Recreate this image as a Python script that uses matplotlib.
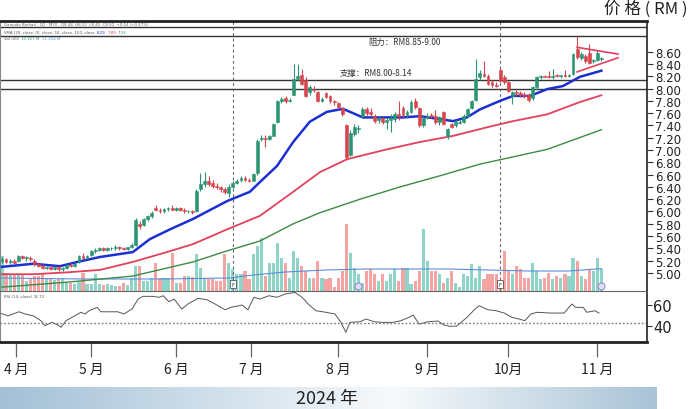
import matplotlib
matplotlib.use("Agg")
import matplotlib.pyplot as plt
import matplotlib.transforms as mtransforms
from matplotlib.colors import LinearSegmentedColormap
import numpy as np

CJK = ['Noto Sans CJK SC', 'DejaVu Sans']
plt.rcParams['font.family'] = ['DejaVu Sans', 'Noto Sans CJK SC']

# ---------------- data (trading-day index 0 = late March 2024) ----------------
opens = [5.20, 5.22, 5.18, 5.20, 5.20, 5.27, 5.24, 5.25, 5.20, 5.14,
         5.12, 5.08, 5.10, 5.07, 5.10, 5.06, 5.08, 5.13, 5.12, 5.18,
         5.28, 5.25, 5.30, 5.36, 5.38, 5.41, 5.38, 5.40, 5.41, 5.42,
         5.41, 5.39, 5.42, 5.45, 5.80, 5.78, 5.88, 5.93, 6.05, 6.02,
         6.00, 6.04, 6.06, 6.03, 6.05, 6.02, 6.00, 6.01, 6.00, 6.36,
         6.45, 6.50, 6.46, 6.42, 6.40, 6.36, 6.30, 6.40, 6.47, 6.52,
         6.55, 6.52, 6.50, 6.62, 7.18, 7.20, 7.18, 7.23, 7.45, 7.80,
         7.84, 7.80, 7.90, 8.16, 8.22, 8.14, 7.95, 8.00, 7.94, 7.80,
         7.92, 7.88, 7.80, 7.76, 7.68, 7.40, 6.92, 7.26, 7.34, 7.56,
         7.66, 7.62, 7.56, 7.48, 7.52, 7.46, 7.48, 7.50, 7.58, 7.68,
         7.57, 7.62, 7.80, 7.68, 7.40, 7.54, 7.56, 7.55, 7.45, 7.62,
         7.22, 7.42, 7.40, 7.44, 7.46, 7.55, 7.68, 7.82, 8.18, 8.24,
         8.20, 8.10, 8.06, 8.30, 8.18, 8.10, 7.88, 7.94, 7.92, 7.90,
         7.90, 7.84, 8.02, 8.18, 8.20, 8.20, 8.19, 8.21, 8.20, 8.21,
         8.20, 8.24, 8.64, 8.50, 8.53, 8.58, 8.44, 8.46, 8.48]
highs = [5.26, 5.24, 5.22, 5.22, 5.30, 5.30, 5.27, 5.27, 5.22, 5.17,
         5.15, 5.12, 5.12, 5.12, 5.12, 5.10, 5.14, 5.16, 5.17, 5.30,
         5.32, 5.30, 5.38, 5.40, 5.42, 5.43, 5.42, 5.42, 5.46, 5.44,
         5.42, 5.43, 5.48, 5.90, 5.84, 5.90, 5.95, 6.00, 6.10, 6.06,
         6.06, 6.08, 6.10, 6.07, 6.08, 6.05, 6.03, 6.03, 6.36, 6.62,
         6.64, 6.58, 6.52, 6.46, 6.42, 6.40, 6.44, 6.50, 6.53, 6.58,
         6.58, 6.55, 6.63, 7.18, 7.24, 7.24, 7.24, 7.44, 7.82, 7.86,
         7.88, 7.84, 8.40, 8.40, 8.32, 8.18, 8.06, 8.04, 7.96, 7.86,
         7.94, 7.90, 7.82, 7.78, 7.70, 7.42, 7.32, 7.42, 7.40, 7.70,
         7.70, 7.68, 7.58, 7.56, 7.54, 7.52, 7.58, 7.62, 7.80, 7.72,
         7.65, 7.82, 7.84, 7.70, 7.55, 7.60, 7.60, 7.65, 7.56, 7.64,
         7.36, 7.44, 7.48, 7.48, 7.58, 7.68, 7.82, 8.48, 8.30, 8.44,
         8.24, 8.14, 8.10, 8.34, 8.22, 8.12, 7.96, 7.98, 7.96, 7.94,
         7.92, 8.04, 8.20, 8.22, 8.22, 8.28, 8.32, 8.23, 8.22, 8.30,
         8.23, 8.58, 8.85, 8.60, 8.56, 8.72, 8.48, 8.62, 8.52]
lows = [5.16, 5.16, 5.15, 5.16, 5.18, 5.22, 5.20, 5.20, 5.12, 5.10,
        5.06, 5.06, 5.05, 5.05, 5.04, 5.03, 5.06, 5.10, 5.10, 5.17,
        5.22, 5.22, 5.28, 5.32, 5.35, 5.36, 5.36, 5.38, 5.38, 5.38,
        5.37, 5.38, 5.40, 5.44, 5.72, 5.76, 5.85, 5.90, 6.00, 5.98,
        5.98, 6.00, 6.02, 6.00, 6.00, 5.98, 5.97, 5.96, 5.99, 6.34,
        6.40, 6.42, 6.38, 6.36, 6.32, 6.28, 6.24, 6.38, 6.44, 6.48,
        6.49, 6.48, 6.49, 6.60, 7.14, 7.05, 7.16, 7.22, 7.44, 7.76,
        7.76, 7.78, 7.90, 8.12, 8.06, 7.86, 7.90, 7.94, 7.78, 7.78,
        7.84, 7.76, 7.74, 7.68, 7.55, 6.84, 6.90, 7.22, 7.28, 7.52,
        7.56, 7.55, 7.44, 7.44, 7.42, 7.34, 7.30, 7.46, 7.48, 7.54,
        7.52, 7.60, 7.66, 7.38, 7.38, 7.50, 7.52, 7.42, 7.40, 7.40,
        7.18, 7.36, 7.38, 7.42, 7.44, 7.54, 7.66, 7.80, 8.14, 8.18,
        8.06, 8.02, 8.02, 8.10, 8.08, 7.94, 7.75, 7.88, 7.86, 7.84,
        7.78, 7.82, 8.00, 8.16, 8.18, 8.17, 8.16, 8.18, 8.17, 8.19,
        8.18, 8.22, 8.48, 8.46, 8.42, 8.40, 8.42, 8.44, 8.45]
closes = [5.22, 5.18, 5.20, 5.17, 5.27, 5.24, 5.25, 5.22, 5.14, 5.12,
          5.08, 5.10, 5.07, 5.10, 5.06, 5.08, 5.13, 5.12, 5.15, 5.28,
          5.25, 5.28, 5.36, 5.38, 5.41, 5.38, 5.40, 5.41, 5.42, 5.41,
          5.39, 5.42, 5.45, 5.86, 5.76, 5.88, 5.93, 5.97, 6.03, 6.01,
          6.04, 6.06, 6.03, 6.05, 6.02, 6.00, 6.01, 5.99, 6.33, 6.45,
          6.50, 6.44, 6.42, 6.40, 6.36, 6.32, 6.40, 6.47, 6.50, 6.55,
          6.52, 6.50, 6.61, 7.14, 7.20, 7.18, 7.22, 7.42, 7.80, 7.83,
          7.79, 7.82, 8.16, 8.20, 8.08, 7.88, 8.02, 7.98, 7.80, 7.83,
          7.86, 7.80, 7.78, 7.70, 7.58, 6.88, 7.28, 7.38, 7.36, 7.66,
          7.60, 7.58, 7.47, 7.52, 7.45, 7.48, 7.52, 7.58, 7.55, 7.57,
          7.62, 7.78, 7.70, 7.40, 7.52, 7.56, 7.55, 7.46, 7.54, 7.42,
          7.34, 7.38, 7.45, 7.46, 7.56, 7.66, 7.80, 8.16, 8.26, 8.20,
          8.08, 8.06, 8.04, 8.12, 8.10, 7.96, 7.94, 7.92, 7.90, 7.88,
          7.82, 8.02, 8.18, 8.20, 8.19, 8.18, 8.21, 8.20, 8.21, 8.20,
          8.22, 8.56, 8.51, 8.56, 8.44, 8.41, 8.46, 8.58, 8.50]
volumes_m = [17.5, 9, 8.5, 8.5, 8.5, 8, 5, 6, 7.5, 7.5,
             9, 6, 6, 5.5, 6, 6.5, 4, 4, 3.5, 4.5,
             9, 3.5, 3.5, 8.5, 3.5, 3, 3.5, 3, 2.5, 2.5,
             4, 3, 6.5, 12.5, 12.5, 5, 5, 6.5, 14, 6.5,
             6.5, 6.5, 19, 4, 4, 7.5, 7.5, 7, 18.5, 11.5,
             6.5, 6, 6, 5, 5, 18.5, 14, 11, 8.5, 8.5,
             10, 6, 18.5, 22.5, 26.5, 7.5, 14, 14, 24, 16.5,
             14, 6.5, 20, 16.5, 12.5, 10, 6.5, 6.5, 15, 6.5,
             6, 6.5, 2, 6.5, 10, 33.5, 19, 11.5, 8.5, 4,
             10, 11, 8.5, 5, 8.5, 5, 8.5, 11, 5, 11.5,
             11.5, 3.5, 5, 10, 31, 15, 10, 10, 8.5, 4,
             6.5, 10, 4, 2, 8.5, 7.5, 13.5, 6.5, 12.5, 6,
             8.5, 8.5, 8.5, 5, 20, 10, 8.5, 12.5, 11, 6.5,
             6.5, 14, 10, 6, 6.5, 9, 6, 7.5, 6.5, 8.5,
             7.5, 16.5, 15, 7.5, 6, 11, 10, 16.5, 10.927]

vol_ma_idx = [0, 20, 40, 56, 62, 70, 80, 90, 100, 110, 120, 130, 140, 148]
vol_ma = [6.5, 6, 6, 6.5, 8, 9.5, 10.5, 11, 11, 11, 10.5, 10, 10, 11.204]

sma20_idx = [0, 7.7, 14.3, 19.3, 24.2, 32.3, 36.5, 41.5, 47.2, 55.6, 61.2, 63.7, 67.9, 71.9,
             76.0, 80.2, 84.2, 89.1, 99.0, 103.2, 111.4, 114.8, 118.0, 123.0, 126.2, 130.4,
             134.6, 138.5, 142.7, 148]
sma20 = [5.10, 5.15, 5.11, 5.19, 5.26, 5.34, 5.55, 5.71, 5.88, 6.17, 6.32, 6.48, 6.74, 7.13,
         7.46, 7.62, 7.67, 7.53, 7.53, 7.55, 7.47, 7.53, 7.66, 7.80, 7.88, 7.88,
         7.99, 8.04, 8.19, 8.29]
sma50_idx = [0, 7.7, 16, 24.2, 32.3, 40.7, 47.2, 55.6, 63.7, 71.9, 78.5, 85.2, 95, 103.2,
             111.4, 119.8, 126.2, 134.6, 142.7, 148]
sma50 = [4.98, 4.98, 5.01, 5.05, 5.18, 5.34, 5.47, 5.71, 5.93, 6.32, 6.64, 6.85, 7.01, 7.13,
         7.23, 7.37, 7.47, 7.58, 7.78, 7.89]
sma100_idx = [0, 16, 32.3, 40.7, 47.2, 55.6, 63.7, 71.9, 78.5, 88.4, 98.3, 108.1, 118, 134.6, 148]
sma100 = [4.77, 4.85, 4.95, 5.08, 5.18, 5.36, 5.52, 5.80, 5.98, 6.20, 6.40, 6.58, 6.77, 7.01, 7.33]

rsi_idx = [-0.5, 1.5, 4.2, 5.7, 7.7, 9.6, 10.6, 12.3, 13.8, 14.6, 15.8, 17.3, 19.5, 20.5, 21.5,
           23.5, 24.4, 26.7, 28.6, 30.1, 32.1, 33.6, 34.8, 37.3, 38.8, 39.8, 41.2, 42.5, 44.4,
           45.9, 48.4, 50.6, 52.6, 55.1, 56.5, 59.3, 60.7, 62.2, 63.7, 65.9, 67.9, 69.9, 72.3,
           74.1, 75.6, 77.5, 80.0, 82.2, 83.7, 84.9, 85.9, 88.4, 89.9, 91.9, 93.8, 96.5, 98.5,
           100.5, 101.5, 103.0, 105.2, 107.7, 109.1, 110.6, 112.3, 114.8, 116.8, 117.8, 120.0,
           122.0, 124.0, 125.9, 127.7, 129.1, 130.6, 132.1, 135.3, 138.8, 140.7, 141.7, 143.5,
           144.4, 146.4, 147.4]
rsi_vals = [51.9, 49.3, 53.1, 51.0, 49.3, 44.6, 39.8, 43.0, 40.5, 38.3, 44.6, 47.8, 52.6, 51.0,
            54.1, 57.3, 53.1, 53.1, 53.1, 51.0, 55.7, 65.2, 67.8, 67.8, 66.9, 68.4, 62.7, 65.2,
            55.7, 60.5, 65.9, 64.6, 60.5, 55.0, 57.3, 59.5, 55.0, 66.9, 65.2, 68.4, 66.9, 70.0,
            71.6, 66.9, 60.5, 54.1, 52.6, 51.0, 43.0, 33.5, 43.0, 43.6, 46.2, 43.6, 43.0, 43.0,
            44.6, 47.8, 50.0, 41.4, 43.6, 44.3, 40.5, 39.2, 39.5, 47.8, 55.7, 58.9, 55.0, 54.1,
            51.9, 47.8, 46.2, 44.6, 51.0, 52.6, 51.9, 51.9, 60.5, 57.3, 57.3, 52.6, 54.1, 51.9]
rsi_guide = 42.7

resistance = [9.00, 8.85]
support = [8.14, 8.00]
trend_idx = [142, 152.1]
upper_trend = [8.67, 8.56]
lower_trend = [8.27, 8.50]

price_ticks = [5.00, 5.20, 5.40, 5.60, 5.80, 6.00, 6.20, 6.40, 6.60, 6.80, 7.00,
               7.20, 7.40, 7.60, 7.80, 8.00, 8.20, 8.40, 8.60]
rsi_ticks = [40, 60]
month_pos = [3.5, 22, 43, 61.5, 83, 105, 125, 147]
month_labels = ['4 月', '5 月', '6 月', '7 月', '8 月', '9 月', '10月', '11 月']
f_events = [57, 123]
d_events = [88, 148]

# ---------------- figure ----------------
W, H = 690, 410
fig = plt.figure(figsize=(6.9, 4.1), dpi=100)
fig.patch.set_facecolor('white')


def rect(x0, y0, x1, y1):
    return [x0 / W, 1 - y1 / H, (x1 - x0) / W, (y1 - y0) / H]


PX = 4.05
XL = (-2 / PX, (647 - 2) / PX)

ax = fig.add_axes(rect(0, 22, 647, 292))
ax_r = fig.add_axes(rect(0, 292, 647, 343), sharex=ax)

UP, DOWN = '#2b9474', '#d6454c'
VUP, VDOWN = '#8fd4c8', '#f4a5a3'

idx = np.arange(len(closes))
o, h, l, c = map(np.array, (opens, highs, lows, closes))
up = c >= o
col = np.where(up, UP, DOWN)

# volume on twin axis
ax_v = ax.twinx()
ax_v.bar(idx, volumes_m, width=0.78, color=np.where(up, VUP, VDOWN), zorder=1)
ax_v.plot(vol_ma_idx, vol_ma, color='#5b8ddb', lw=0.8, zorder=2)
ax_v.set_ylim(0, 135)
ax_v.set_axis_off()
ax.set_zorder(ax_v.get_zorder() + 1)
ax.patch.set_visible(False)

# moving averages
ax.plot(sma100_idx, sma100, color='#3d8a45', lw=1.0, zorder=3)
ax.plot(sma50_idx, sma50, color='#e2405c', lw=1.3, zorder=3)
ax.plot(sma20_idx, sma20, color='#1c2fd0', lw=1.8, zorder=3)

# candles
ax.vlines(idx, l, h, colors=col, lw=0.8, zorder=4)
ax.bar(idx, np.maximum(np.abs(c - o), 0.014), bottom=np.minimum(o, c), width=0.7,
       color=col, edgecolor=col, lw=0.4, zorder=5)

# support / resistance
for lv in resistance + support:
    ax.axhline(lv, color='#333333', lw=1.0, zorder=2)

# triangle
ax.plot(trend_idx, upper_trend, color='#e2405c', lw=1.2, zorder=6)
ax.plot(trend_idx, lower_trend, color='#e2405c', lw=1.2, zorder=6)

# event lines and markers
btrans = mtransforms.blended_transform_factory(ax.transData, ax.transAxes)
for e in f_events:
    ax.axvline(e, color='#666666', lw=0.8, ls=(0, (2.5, 2.5)), zorder=2)
    ax.text(e, 0.025, 'F', transform=btrans, ha='center', va='center', fontsize=3.5,
            color='#333333', zorder=7,
            bbox=dict(boxstyle='square,pad=0.35', fc='white', ec='#555555', lw=0.6))
for e in d_events:
    ax.plot([e], [0.018], transform=btrans, marker='o', ms=5, mfc='#e3def7', mec='#8a84c9',
            mew=0.7, zorder=7, clip_on=False)

ax.set_xlim(*XL)
ax.set_ylim(4.707, 9.098)
ax.set_yticks(price_ticks)
ax.set_yticklabels([f'{t:.2f}' for t in price_ticks])
ax.yaxis.tick_right()
ax.tick_params(axis='y', length=4.5, width=0.8, color='#333333', labelsize=8.5, pad=1.5,
               labelcolor='#222222')
ax.tick_params(axis='x', bottom=False, labelbottom=False)
ax.spines['top'].set_linewidth(2.0)
ax.spines['top'].set_color('#222222')
ax.spines['right'].set_linewidth(1.2)
ax.spines['right'].set_color('#222222')
ax.spines['left'].set_linewidth(0.8)
ax.spines['left'].set_color('#888888')
ax.spines['bottom'].set_linewidth(0.8)
ax.spines['bottom'].set_color('#666666')

# RSI panel
ax_r.plot(rsi_idx, rsi_vals, color='#555555', lw=0.7)
ax_r.axhline(rsi_guide, color='#777777', lw=1.0, ls=(0, (1.2, 1.5)))
ax_r.set_ylim(24.3, 72.9)
ax_r.set_yticks(rsi_ticks)
ax_r.yaxis.tick_right()
ax_r.tick_params(axis='y', length=3.5, width=0.8, color='#333333', labelsize=10.5, pad=1,
                 labelcolor='#222222')
ax_r.set_xticks(month_pos)
ax_r.set_xticklabels(month_labels)
ax_r.tick_params(axis='x', length=11, width=0.9, color='#666666', labelsize=10, pad=3,
                 labelcolor='#222222')
for t in ax_r.get_xticklabels():
    t.set_fontfamily(CJK)
ax_r.spines['top'].set_visible(False)
ax_r.spines['right'].set_linewidth(1.2)
ax_r.spines['right'].set_color('#222222')
ax_r.spines['bottom'].set_linewidth(2.0)
ax_r.spines['bottom'].set_color('#222222')
ax_r.spines['left'].set_linewidth(0.8)
ax_r.spines['left'].set_color('#888888')
ax_r.set_xlim(*XL)


def ftxt(x, y, s, **kw):
    return fig.text(x / W, 1 - y / H, s, **kw)


renderer = fig.canvas.get_renderer()


def chain(x, y, parts, size=2.8, gap=2.0):
    """Draw consecutive coloured text pieces on one line without overlap."""
    for s, colr in parts:
        t = ftxt(x, y, s, ha='left', va='center', fontsize=size, color=colr)
        bb = t.get_window_extent(renderer=renderer)
        x += bb.width + gap


# title
ftxt(688, 9.5, '价 格 ( RM )', ha='right', va='center', fontsize=12, family=CJK, color='#222222')

# annotations
ftxt(368, 42, '阻力：RM8.85-9.00', ha='left', va='center', fontsize=6, family=CJK, color='#333333')
ftxt(340, 73, '支撑：RM8.00-8.14', ha='left', va='center', fontsize=6, family=CJK, color='#333333')

# tiny legends
chain(4, 25, [('Gamuda Berhad · 1D · MYX   O8.48  H8.52  L8.45  C8.50  +0.04 (+0.47%)', '#666666')])
chain(4, 33, [('SMA (20, close, 0), close, 50, close, 100, close', '#555555'),
              ('8.29', '#1c2fd0'), ('7.89', '#e2405c'), ('7.33', '#3d8a45')])
chain(4, 39.5, [('Vol (20)', '#555555'), ('10.927 M', '#2b9474'), ('11.204 M', '#5b8ddb')])
chain(4, 297.5, [('RSI (14, close)', '#555555'), ('52.72', '#555555')])

# bottom band
band = fig.add_axes(rect(0, 388, 657, 410))
grad = np.linspace(0, 1, 256).reshape(1, -1)
cmap = LinearSegmentedColormap.from_list(
    'band', [(0, '#a3c0d6'), (0.6, '#f7fafc'), (1, '#a9c3d6')])
band.imshow(grad, aspect='auto', cmap=cmap, extent=[0, 1, 0, 1])
band.set_axis_off()
ftxt(327, 399, '2024 年', ha='center', va='center', fontsize=13, family=CJK, color='#222222')

fig.savefig('out.png', dpi=100)
